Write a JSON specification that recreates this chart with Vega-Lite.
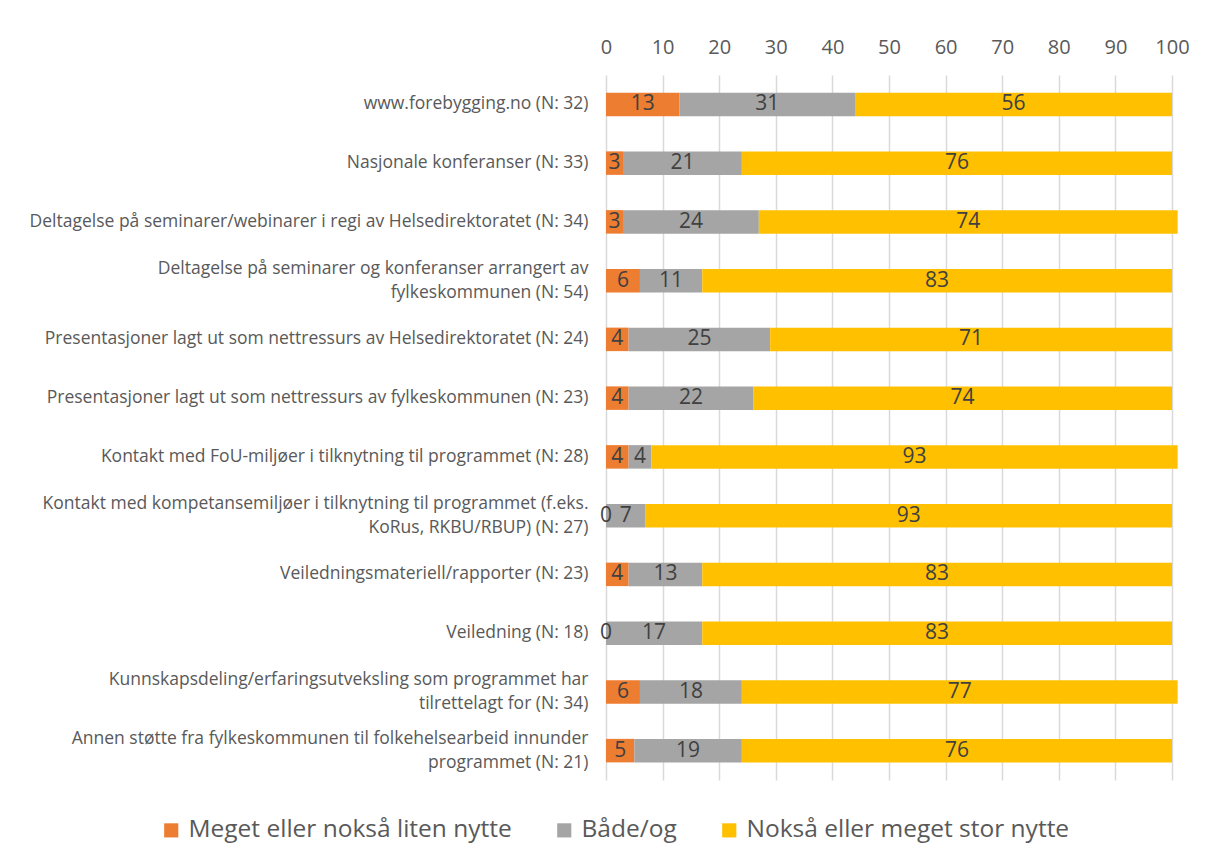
{
  "$schema": "https://vega.github.io/schema/vega-lite/v6.json",
  "width": 566,
  "height": 705,
  "autosize": {"type": "none"},
  "padding": {"left": 606, "top": 75, "right": 36, "bottom": 85},
  "background": "white",
  "config": {
    "font": "Open Sans",
    "view": {"stroke": null}
  },
  "data": {
    "values": [
      {"item": "www.forebygging.no (N: 32)", "row": 1, "cat": "Meget eller nokså liten nytte", "k": 1, "value": 13},
      {"item": "www.forebygging.no (N: 32)", "row": 1, "cat": "Både/og", "k": 2, "value": 31},
      {"item": "www.forebygging.no (N: 32)", "row": 1, "cat": "Nokså eller meget stor nytte", "k": 3, "value": 56},
      {"item": "Nasjonale konferanser (N: 33)", "row": 2, "cat": "Meget eller nokså liten nytte", "k": 1, "value": 3},
      {"item": "Nasjonale konferanser (N: 33)", "row": 2, "cat": "Både/og", "k": 2, "value": 21},
      {"item": "Nasjonale konferanser (N: 33)", "row": 2, "cat": "Nokså eller meget stor nytte", "k": 3, "value": 76},
      {"item": "Deltagelse på seminarer/webinarer i regi av Helsedirektoratet (N: 34)", "row": 3, "cat": "Meget eller nokså liten nytte", "k": 1, "value": 3},
      {"item": "Deltagelse på seminarer/webinarer i regi av Helsedirektoratet (N: 34)", "row": 3, "cat": "Både/og", "k": 2, "value": 24},
      {"item": "Deltagelse på seminarer/webinarer i regi av Helsedirektoratet (N: 34)", "row": 3, "cat": "Nokså eller meget stor nytte", "k": 3, "value": 74},
      {"item": "Deltagelse på seminarer og konferanser arrangert av|fylkeskommunen (N: 54)", "row": 4, "cat": "Meget eller nokså liten nytte", "k": 1, "value": 6},
      {"item": "Deltagelse på seminarer og konferanser arrangert av|fylkeskommunen (N: 54)", "row": 4, "cat": "Både/og", "k": 2, "value": 11},
      {"item": "Deltagelse på seminarer og konferanser arrangert av|fylkeskommunen (N: 54)", "row": 4, "cat": "Nokså eller meget stor nytte", "k": 3, "value": 83},
      {"item": "Presentasjoner lagt ut som nettressurs av Helsedirektoratet (N: 24)", "row": 5, "cat": "Meget eller nokså liten nytte", "k": 1, "value": 4},
      {"item": "Presentasjoner lagt ut som nettressurs av Helsedirektoratet (N: 24)", "row": 5, "cat": "Både/og", "k": 2, "value": 25},
      {"item": "Presentasjoner lagt ut som nettressurs av Helsedirektoratet (N: 24)", "row": 5, "cat": "Nokså eller meget stor nytte", "k": 3, "value": 71},
      {"item": "Presentasjoner lagt ut som nettressurs av fylkeskommunen (N: 23)", "row": 6, "cat": "Meget eller nokså liten nytte", "k": 1, "value": 4},
      {"item": "Presentasjoner lagt ut som nettressurs av fylkeskommunen (N: 23)", "row": 6, "cat": "Både/og", "k": 2, "value": 22},
      {"item": "Presentasjoner lagt ut som nettressurs av fylkeskommunen (N: 23)", "row": 6, "cat": "Nokså eller meget stor nytte", "k": 3, "value": 74},
      {"item": "Kontakt med FoU-miljøer i tilknytning til programmet (N: 28)", "row": 7, "cat": "Meget eller nokså liten nytte", "k": 1, "value": 4},
      {"item": "Kontakt med FoU-miljøer i tilknytning til programmet (N: 28)", "row": 7, "cat": "Både/og", "k": 2, "value": 4},
      {"item": "Kontakt med FoU-miljøer i tilknytning til programmet (N: 28)", "row": 7, "cat": "Nokså eller meget stor nytte", "k": 3, "value": 93},
      {"item": "Kontakt med kompetansemiljøer i tilknytning til programmet (f.eks.|KoRus, RKBU/RBUP) (N: 27)", "row": 8, "cat": "Meget eller nokså liten nytte", "k": 1, "value": 0},
      {"item": "Kontakt med kompetansemiljøer i tilknytning til programmet (f.eks.|KoRus, RKBU/RBUP) (N: 27)", "row": 8, "cat": "Både/og", "k": 2, "value": 7},
      {"item": "Kontakt med kompetansemiljøer i tilknytning til programmet (f.eks.|KoRus, RKBU/RBUP) (N: 27)", "row": 8, "cat": "Nokså eller meget stor nytte", "k": 3, "value": 93},
      {"item": "Veiledningsmateriell/rapporter (N: 23)", "row": 9, "cat": "Meget eller nokså liten nytte", "k": 1, "value": 4},
      {"item": "Veiledningsmateriell/rapporter (N: 23)", "row": 9, "cat": "Både/og", "k": 2, "value": 13},
      {"item": "Veiledningsmateriell/rapporter (N: 23)", "row": 9, "cat": "Nokså eller meget stor nytte", "k": 3, "value": 83},
      {"item": "Veiledning (N: 18)", "row": 10, "cat": "Meget eller nokså liten nytte", "k": 1, "value": 0},
      {"item": "Veiledning (N: 18)", "row": 10, "cat": "Både/og", "k": 2, "value": 17},
      {"item": "Veiledning (N: 18)", "row": 10, "cat": "Nokså eller meget stor nytte", "k": 3, "value": 83},
      {"item": "Kunnskapsdeling/erfaringsutveksling som programmet har|tilrettelagt for (N: 34)", "row": 11, "cat": "Meget eller nokså liten nytte", "k": 1, "value": 6},
      {"item": "Kunnskapsdeling/erfaringsutveksling som programmet har|tilrettelagt for (N: 34)", "row": 11, "cat": "Både/og", "k": 2, "value": 18},
      {"item": "Kunnskapsdeling/erfaringsutveksling som programmet har|tilrettelagt for (N: 34)", "row": 11, "cat": "Nokså eller meget stor nytte", "k": 3, "value": 77},
      {"item": "Annen støtte fra fylkeskommunen til folkehelsearbeid innunder|programmet (N: 21)", "row": 12, "cat": "Meget eller nokså liten nytte", "k": 1, "value": 5},
      {"item": "Annen støtte fra fylkeskommunen til folkehelsearbeid innunder|programmet (N: 21)", "row": 12, "cat": "Både/og", "k": 2, "value": 19},
      {"item": "Annen støtte fra fylkeskommunen til folkehelsearbeid innunder|programmet (N: 21)", "row": 12, "cat": "Nokså eller meget stor nytte", "k": 3, "value": 76}
    ]
  },
  "transform": [
    {"stack": "value", "groupby": ["item"], "sort": [{"field": "k", "order": "ascending"}], "as": ["v0", "v1"]},
    {"calculate": "(datum.v0 + datum.v1) / 2", "as": "mid"}
  ],
  "encoding": {
    "y": {
      "field": "item",
      "type": "nominal",
      "sort": {"field": "row", "order": "ascending"},
      "scale": {"paddingInner": 0.6, "paddingOuter": 0.3},
      "axis": {
        "title": null,
        "domain": false,
        "ticks": false,
        "labelPadding": 18,
        "labelFontSize": 17.5,
        "labelColor": "#595959",
        "labelLimit": 700,
        "labelLineHeight": 24,
        "labelExpr": "split(datum.label, '|')",
        "labelOffset": {"expr": "indexof(datum.value, '|') >= 0 ? -12 : 0"}
      }
    }
  },
  "layer": [
    {
      "mark": {"type": "bar"},
      "encoding": {
        "x": {
          "field": "v0",
          "type": "quantitative",
          "scale": {"domain": [0, 100], "nice": false},
          "axis": {
            "orient": "top",
            "title": null,
            "domain": false,
            "ticks": false,
            "values": [0, 10, 20, 30, 40, 50, 60, 70, 80, 90, 100],
            "grid": true,
            "gridColor": "#d9d9d9",
            "gridWidth": 1.5,
            "labelFontSize": 20,
            "labelColor": "#595959",
            "labelPadding": 18,
            "labelFlush": false
          }
        },
        "x2": {"field": "v1"},
        "color": {
          "field": "cat",
          "type": "nominal",
          "sort": ["Meget eller nokså liten nytte", "Både/og", "Nokså eller meget stor nytte"],
          "scale": {
            "domain": ["Meget eller nokså liten nytte", "Både/og", "Nokså eller meget stor nytte"],
            "range": ["#ED7D31", "#A5A5A5", "#FFC000"]
          },
          "legend": {
            "title": null,
            "orient": "none",
            "legendX": -447,
            "legendY": 743,
            "direction": "horizontal",
            "symbolType": "square",
            "symbolSize": 200,
            "symbolStrokeWidth": 0,
            "labelFontSize": 24.5,
            "labelColor": "#595959",
            "columnPadding": 40,
            "labelOffset": 5,
            "labelLimit": 600
          }
        }
      }
    },
    {
      "mark": {"type": "text", "fontSize": 21, "color": "#404040", "align": "center", "baseline": "middle"},
      "encoding": {
        "x": {"field": "mid", "type": "quantitative"},
        "text": {"field": "value", "type": "quantitative"}
      }
    }
  ]
}
